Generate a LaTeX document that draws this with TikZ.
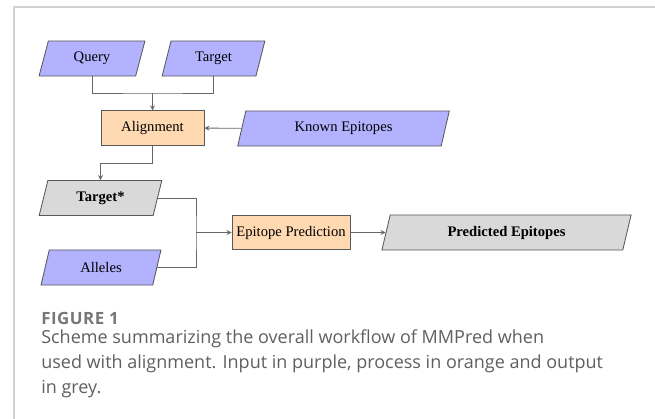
\documentclass[tikz,border=0pt]{standalone}
\usepackage{fontspec}
\setmainfont{Liberation Serif}
\newfontfamily\capfont{Open Sans}
\newfontfamily\caplabelfont[LetterSpace=3]{Open Sans}
\usetikzlibrary{shapes.geometric}

\definecolor{inputcol}{RGB}{178,178,255}
\definecolor{proccol}{RGB}{255,217,178}
\definecolor{outcol}{RGB}{217,217,217}
\definecolor{framecol}{RGB}{210,210,210}
\definecolor{captioncol}{RGB}{95,95,95}
\newcommand\boxfont{\fontsize{10.4pt}{12pt}\selectfont}

\tikzset{
  io/.style={trapezium, trapezium left angle=75, trapezium right angle=105,
    trapezium stretches=true, draw=black!65, line width=0.6pt,
    minimum height=0.875cm, inner sep=1pt, font=\boxfont},
  input/.style={io, fill=inputcol},
  output/.style={io, fill=outcol, font=\boxfont\bfseries},
  process/.style={rectangle, draw=black!65, line width=0.6pt, fill=proccol,
    minimum height=0.86cm, inner sep=1pt, font=\boxfont},
  link/.style={draw=black!60, line width=0.6pt},
  flow/.style={link, ->},
}

\begin{document}
\begin{tikzpicture}[x=0.025cm, y=-0.025cm, >=stealth]
\useasboundingbox (0,0) rectangle (655,419);
% frame
\draw[framecol, line width=1.1pt] (14,419) -- (14,7) -- (655,7);

% inputs and alignment
\node[input, minimum width=2.65cm] (Query) at (92,58.5) {Query};
\node[input, minimum width=2.575cm] (Target) at (213.5,58.5) {Target};
\node[process, minimum width=2.575cm] (Alignment) at (152.5,128) {Alignment};
\node[input, minimum width=5.325cm] (Known) at (343.5,128.5) {Known Epitopes};

% prediction
\node[output, minimum width=3.075cm] (TargetStar) at (100.5,198) {Target*};
\node[input, minimum width=3cm] (Alleles) at (101,267.5) {Alleles};
\node[process, minimum width=2.95cm] (Prediction) at (291,232.5) {Epitope Prediction};
\node[output, minimum width=6.275cm] (Predicted) at (506.5,232.5) {Predicted Epitopes};

\coordinate (merge) at (152.5,93);
\coordinate (bend) at (152.5,163);
\coordinate (fork) at (196,232.5);

\draw[link] (Query) |- (merge) -| (Target);
\draw[flow] (merge) -- (Alignment);
\draw[flow] (Known) -- (Alignment);
\draw[flow] (Alignment) -- (bend) -| (TargetStar);
\draw[link] (TargetStar) -| (fork) |- (Alleles);
\draw[flow] (fork) -- (Prediction);
\draw[flow] (Prediction) -- (Predicted);

% caption (base of a multi-line node sits on its last line)
\node[anchor=base west, inner sep=0pt, text=captioncol!85,
  font=\caplabelfont\fontsize{12pt}{13pt}\selectfont\bfseries] (figlabel) at (41,324.7) {FIGURE 1};
\node[anchor=base west, inner sep=0pt, align=left, text=captioncol,
  font=\capfont\fontsize{12.8pt}{17.6pt}\selectfont] (figcaption) at (41,393.3)
  {Scheme summarizing the overall workflow of MMPred when\\
   used with alignment. Input in purple, process in orange and output\\
   in grey.};
\end{tikzpicture}
\end{document}
